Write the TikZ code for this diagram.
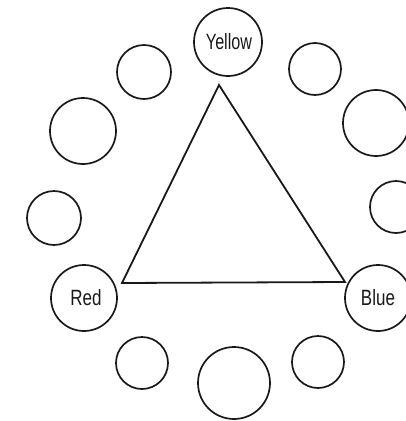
\documentclass[tikz,border=0pt]{standalone}
\usepackage{fontspec}
\setmainfont{Liberation Sans}
\begin{document}
\begin{tikzpicture}[x=1pt,y=-1pt,
  ring/.style={circle,draw=black!90,line width=1.7pt,inner sep=0pt,minimum size=#1},
  lbl/.style={font=\fontsize{17}{17}\selectfont,text=black!90},
  tri/.style={draw=black!90,line width=1.8pt,line join=miter}]
\useasboundingbox (0,0) rectangle (405,421);
% labelled circles
\node[ring=68pt] (yellow) at (228,42) {};
\node[ring=66pt] (red) at (84,298) {};
\node[ring=66pt] (blue) at (378,298) {};
\node[lbl] (ytext) at (229,42) {\scalebox{0.95}[1.3]{Yellow}};
\node[lbl] (rtext) at (86,298) {\scalebox{1.0}[1.3]{Red}};
\node[lbl] (btext) at (378,298) {\scalebox{1.0}[1.3]{Blue}};
% plain circles
\node[ring=54pt] (c1) at (144,72) {};
\node[ring=66pt] (c2) at (83,131) {};
\node[ring=54pt] (c3) at (54,218) {};
\node[ring=52pt] (c4) at (142,363) {};
\node[ring=72pt] (c5) at (234,383) {};
\node[ring=52pt] (c6) at (318,362) {};
\node[ring=52pt] (c7) at (396,207) {};
\node[ring=66pt] (c8) at (376,123) {};
\node[ring=52pt] (c9) at (315,69) {};
% triangle
\coordinate (apex) at (219,85);
\coordinate (left) at (122,283);
\coordinate (right) at (345,282);
\draw[tri] (apex) -- (left) -- (right) -- cycle;
\end{tikzpicture}
\end{document}
